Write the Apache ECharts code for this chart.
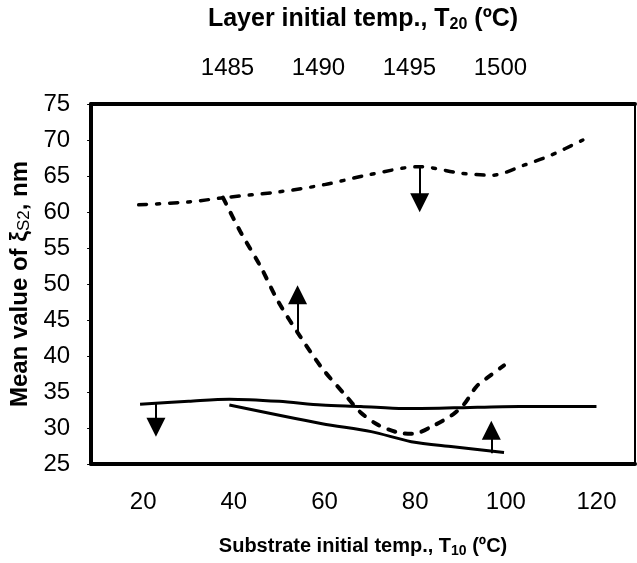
<!DOCTYPE html>
<html>
<head>
<meta charset="utf-8">
<script src="https://cdn.jsdelivr.net/npm/echarts@6/dist/echarts.min.js"></script>
<style>
  html, body { margin: 0; padding: 0; background: #fff; }
  #chart { width: 637px; height: 563px; }
</style>
</head>
<body>
<div id="chart"></div>
<script>
// tick labels
var substrateTicks = [20, 40, 60, 80, 100, 120];
var layerTicks = [1485, 1490, 1495, 1500];

// dash-dot curve, against substrate temp T10 (bottom axis)
var dashDotT10 = [19, 30, 38, 50, 60, 70, 81, 90, 97, 104, 110, 117];
var dashDotVal = [61.0, 61.4, 62.0, 62.8, 63.8, 65.2, 66.3, 65.4, 65.1, 66.5, 67.9, 70.0];

// dashed curve, against layer temp T20 (top axis)
var dashedT20 = [1484.75, 1485.7, 1486.8, 1487.8, 1489.0, 1490.2, 1491.6, 1492.3, 1493.3, 1494.5, 1495.2, 1496.3, 1497.4, 1498.0, 1498.7, 1499.4, 1500.2];
var dashedVal = [62.0, 57.3, 52.5, 47.5, 42.7, 38.3, 34.2, 32.2, 30.4, 29.3, 29.2, 30.3, 31.9, 33.3, 35.8, 37.2, 38.7];

// upper solid curve, against T10
var solidT10 = [19.3, 30, 39, 50, 59.4, 68, 77.5, 88.5, 103, 120];
var solidVal = [33.3, 33.7, 34.0, 33.7, 33.2, 33.0, 32.7, 32.8, 33.0, 33.0];

// lower solid curve, against T20
var lowerT20 = [1485.1, 1490.2, 1492.9, 1495.1, 1497.4, 1500.2];
var lowerVal = [33.2, 30.6, 29.5, 28.1, 27.4, 26.6];

function pairs(xs, ys) {
    var out = [];
    for (var i = 0; i < xs.length; i++) out.push([xs[i], ys[i]]);
    return out;
}

var sans = '"Liberation Sans", Arial, sans-serif';

function arrow(x, from, to) {
    return {
        silent: true,
        animation: false,
        symbol: ['none', 'triangle'],
        symbolSize: 19,
        label: { show: false },
        lineStyle: { color: '#000', width: 2, type: 'solid' },
        emphasis: { disabled: true },
        data: [[{ coord: [x, from] }, { coord: [x, to] }]]
    };
}

var option = {
    animation: false,
    backgroundColor: '#fff',
    grid: { left: 88, right: 2, top: 104, bottom: 90 },
    xAxis: [
        {
            type: 'value',
            position: 'bottom',
            min: 8.5,
            max: 128.5,
            name: 'Substrate initial temp., T{sub|10} (ºC)',
            nameLocation: 'middle',
            nameGap: 70,
            nameTextStyle: {
                fontFamily: sans, fontWeight: 'bold', fontSize: 20, color: '#000',
                rich: { sub: { fontFamily: sans, fontWeight: 'bold', fontSize: 14, verticalAlign: 'bottom', padding: [10, 0, 0, 0] } }
            },
            axisLine: { show: true, lineStyle: { color: '#000', width: 4 } },
            axisTick: { show: false },
            splitLine: { show: false },
            axisLabel: {
                customValues: substrateTicks,
                formatter: function (v) { return String(v); },
                fontFamily: sans, fontSize: 24, color: '#000', margin: 26
            }
        },
        {
            type: 'value',
            position: 'top',
            min: 1477.5,
            max: 1507.4,
            name: 'Layer initial temp., T{sub|20} (ºC)',
            nameLocation: 'middle',
            nameGap: 71,
            nameTextStyle: {
                fontFamily: sans, fontWeight: 'bold', fontSize: 25, color: '#000',
                rich: { sub: { fontFamily: sans, fontWeight: 'bold', fontSize: 16, verticalAlign: 'bottom', padding: [12, 0, 0, 0] } }
            },
            axisLine: { show: true, lineStyle: { color: '#000', width: 4 } },
            axisTick: { show: false },
            splitLine: { show: false },
            axisLabel: {
                customValues: layerTicks,
                formatter: function (v) { return String(v); },
                fontFamily: sans, fontSize: 24, color: '#000', margin: 24
            }
        }
    ],
    yAxis: [
        {
            type: 'value',
            position: 'left',
            min: 25,
            max: 75,
            interval: 5,
            name: 'Mean value of ξ{s|S2}, nm',
            nameLocation: 'middle',
            nameRotate: 90,
            nameGap: 56,
            nameTextStyle: {
                fontFamily: sans, fontWeight: 'bold', fontSize: 24, color: '#000',
                rich: { s: { fontFamily: sans, fontWeight: 'normal', fontSize: 17, padding: [8, 0, 0, 0] } }
            },
            axisLine: { show: true, lineStyle: { color: '#000', width: 4 } },
            axisTick: { show: true, length: 4, lineStyle: { color: '#000', width: 1 } },
            splitLine: { show: false },
            axisLabel: { fontFamily: sans, fontSize: 24, color: '#000', margin: 21 }
        },
        {
            type: 'value',
            position: 'right',
            min: 25,
            max: 75,
            interval: 5,
            axisLine: { show: true, lineStyle: { color: '#000', width: 2 } },
            axisTick: { show: false },
            axisLabel: { show: false },
            splitLine: { show: false }
        }
    ],
    series: [
        {
            name: 'dash-dot',
            type: 'line',
            xAxisIndex: 0,
            yAxisIndex: 0,
            smooth: 0.3,
            showSymbol: false,
            data: pairs(dashDotT10, dashDotVal),
            lineStyle: { color: '#000', width: 3.5, type: [8, 10, 3, 10], cap: 'round' },
            markLine: arrow(81, 66.4, 61.3)
        },
        {
            name: 'dashed',
            type: 'line',
            xAxisIndex: 1,
            yAxisIndex: 0,
            smooth: 0.3,
            showSymbol: false,
            data: pairs(dashedT20, dashedVal),
            lineStyle: { color: '#000', width: 4, type: [7, 10], cap: 'round' },
            markLine: arrow(1488.85, 43.3, 48.5)
        },
        {
            name: 'solid upper',
            type: 'line',
            xAxisIndex: 0,
            yAxisIndex: 0,
            smooth: 0.3,
            showSymbol: false,
            data: pairs(solidT10, solidVal),
            lineStyle: { color: '#000', width: 3 },
            markLine: arrow(22.8, 33.4, 30.1)
        },
        {
            name: 'solid lower',
            type: 'line',
            xAxisIndex: 1,
            yAxisIndex: 0,
            smooth: 0.3,
            showSymbol: false,
            data: pairs(lowerT20, lowerVal),
            lineStyle: { color: '#000', width: 3 },
            markLine: arrow(1499.5, 26.5, 29.7)
        }
    ]
};

var chart = echarts.init(document.getElementById('chart'), null, { renderer: 'canvas' });
chart.setOption(option);
</script>
</body>
</html>
